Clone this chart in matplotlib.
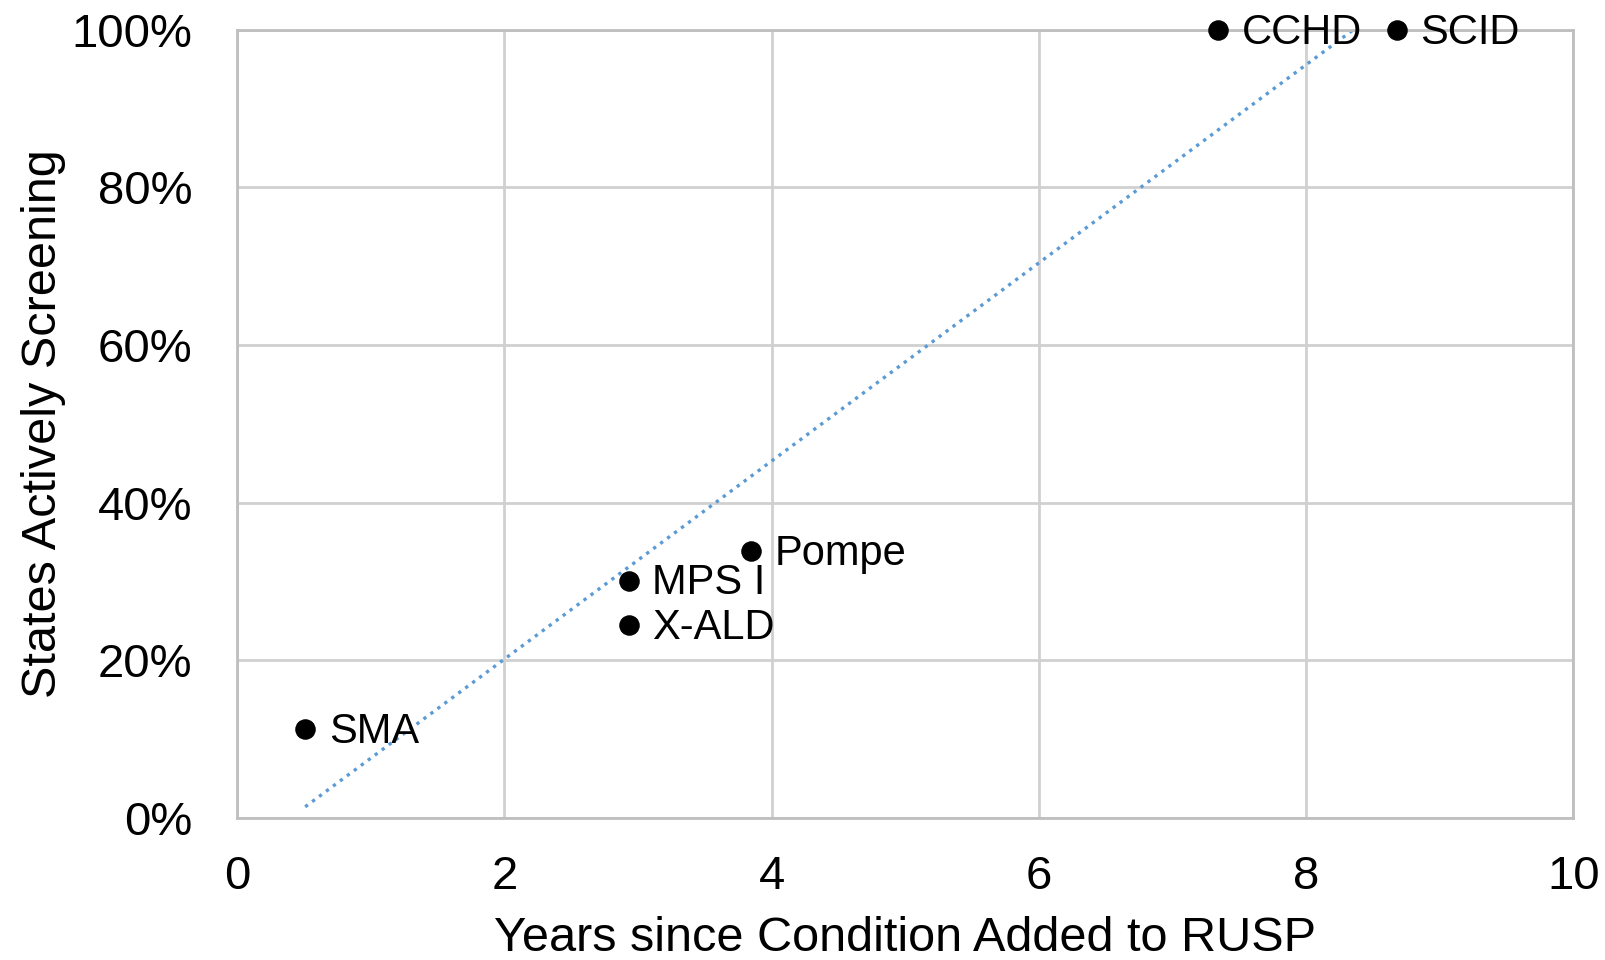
import numpy as np
import matplotlib
matplotlib.use("Agg")
import matplotlib.pyplot as plt
from matplotlib.ticker import PercentFormatter

plt.rcParams['font.family'] = ['Liberation Sans', 'DejaVu Sans']

# data
conditions = ["SMA", "MPS I", "X-ALD", "Pompe", "CCHD", "SCID"]
years = [0.51, 2.93, 2.93, 3.85, 7.34, 8.68]
screening = [0.113, 0.301, 0.245, 0.339, 1.00, 1.00]

fig = plt.figure(figsize=(16.06, 9.6), dpi=100)
ax = fig.add_axes([0.1476, 0.148, 0.832, 0.821])

# linear trendline (like excel)
slope, icpt = np.polyfit(years, screening, 1)
xt = np.array([min(years), max(years)])
ax.plot(xt, slope * xt + icpt, linestyle=(0, (1, 1.6)), color='#5b9bd5', lw=2.4, zorder=2)

ax.scatter(years, screening, s=190, color='black', zorder=3, clip_on=False)
for name, x, y in zip(conditions, years, screening):
    ax.annotate(name, (x, y), xytext=(17, -2), textcoords='offset points',
                va='center', ha='left', fontsize=30, zorder=4, annotation_clip=False)

ax.set_xlim(0, 10)
ax.set_ylim(0, 1)
ax.set_xticks(np.arange(0, 11, 2))
ax.set_yticks(np.arange(0, 1.01, 0.2))
ax.yaxis.set_major_formatter(PercentFormatter(1.0, decimals=0))
ax.tick_params(length=0, labelsize=34, colors='black')
ax.tick_params(axis='x', pad=27)
ax.tick_params(axis='y', pad=32)

ax.grid(True, color='#d0d0d0', lw=2)
ax.set_axisbelow(True)
for sp in ax.spines.values():
    sp.set_color('#bfbfbf')
    sp.set_linewidth(2)

ax.set_xlabel("Years since Condition Added to RUSP", fontsize=35, labelpad=12)
ax.set_ylabel("States Actively Screening", fontsize=35, labelpad=4)

fig.savefig("out.png", dpi=100)
